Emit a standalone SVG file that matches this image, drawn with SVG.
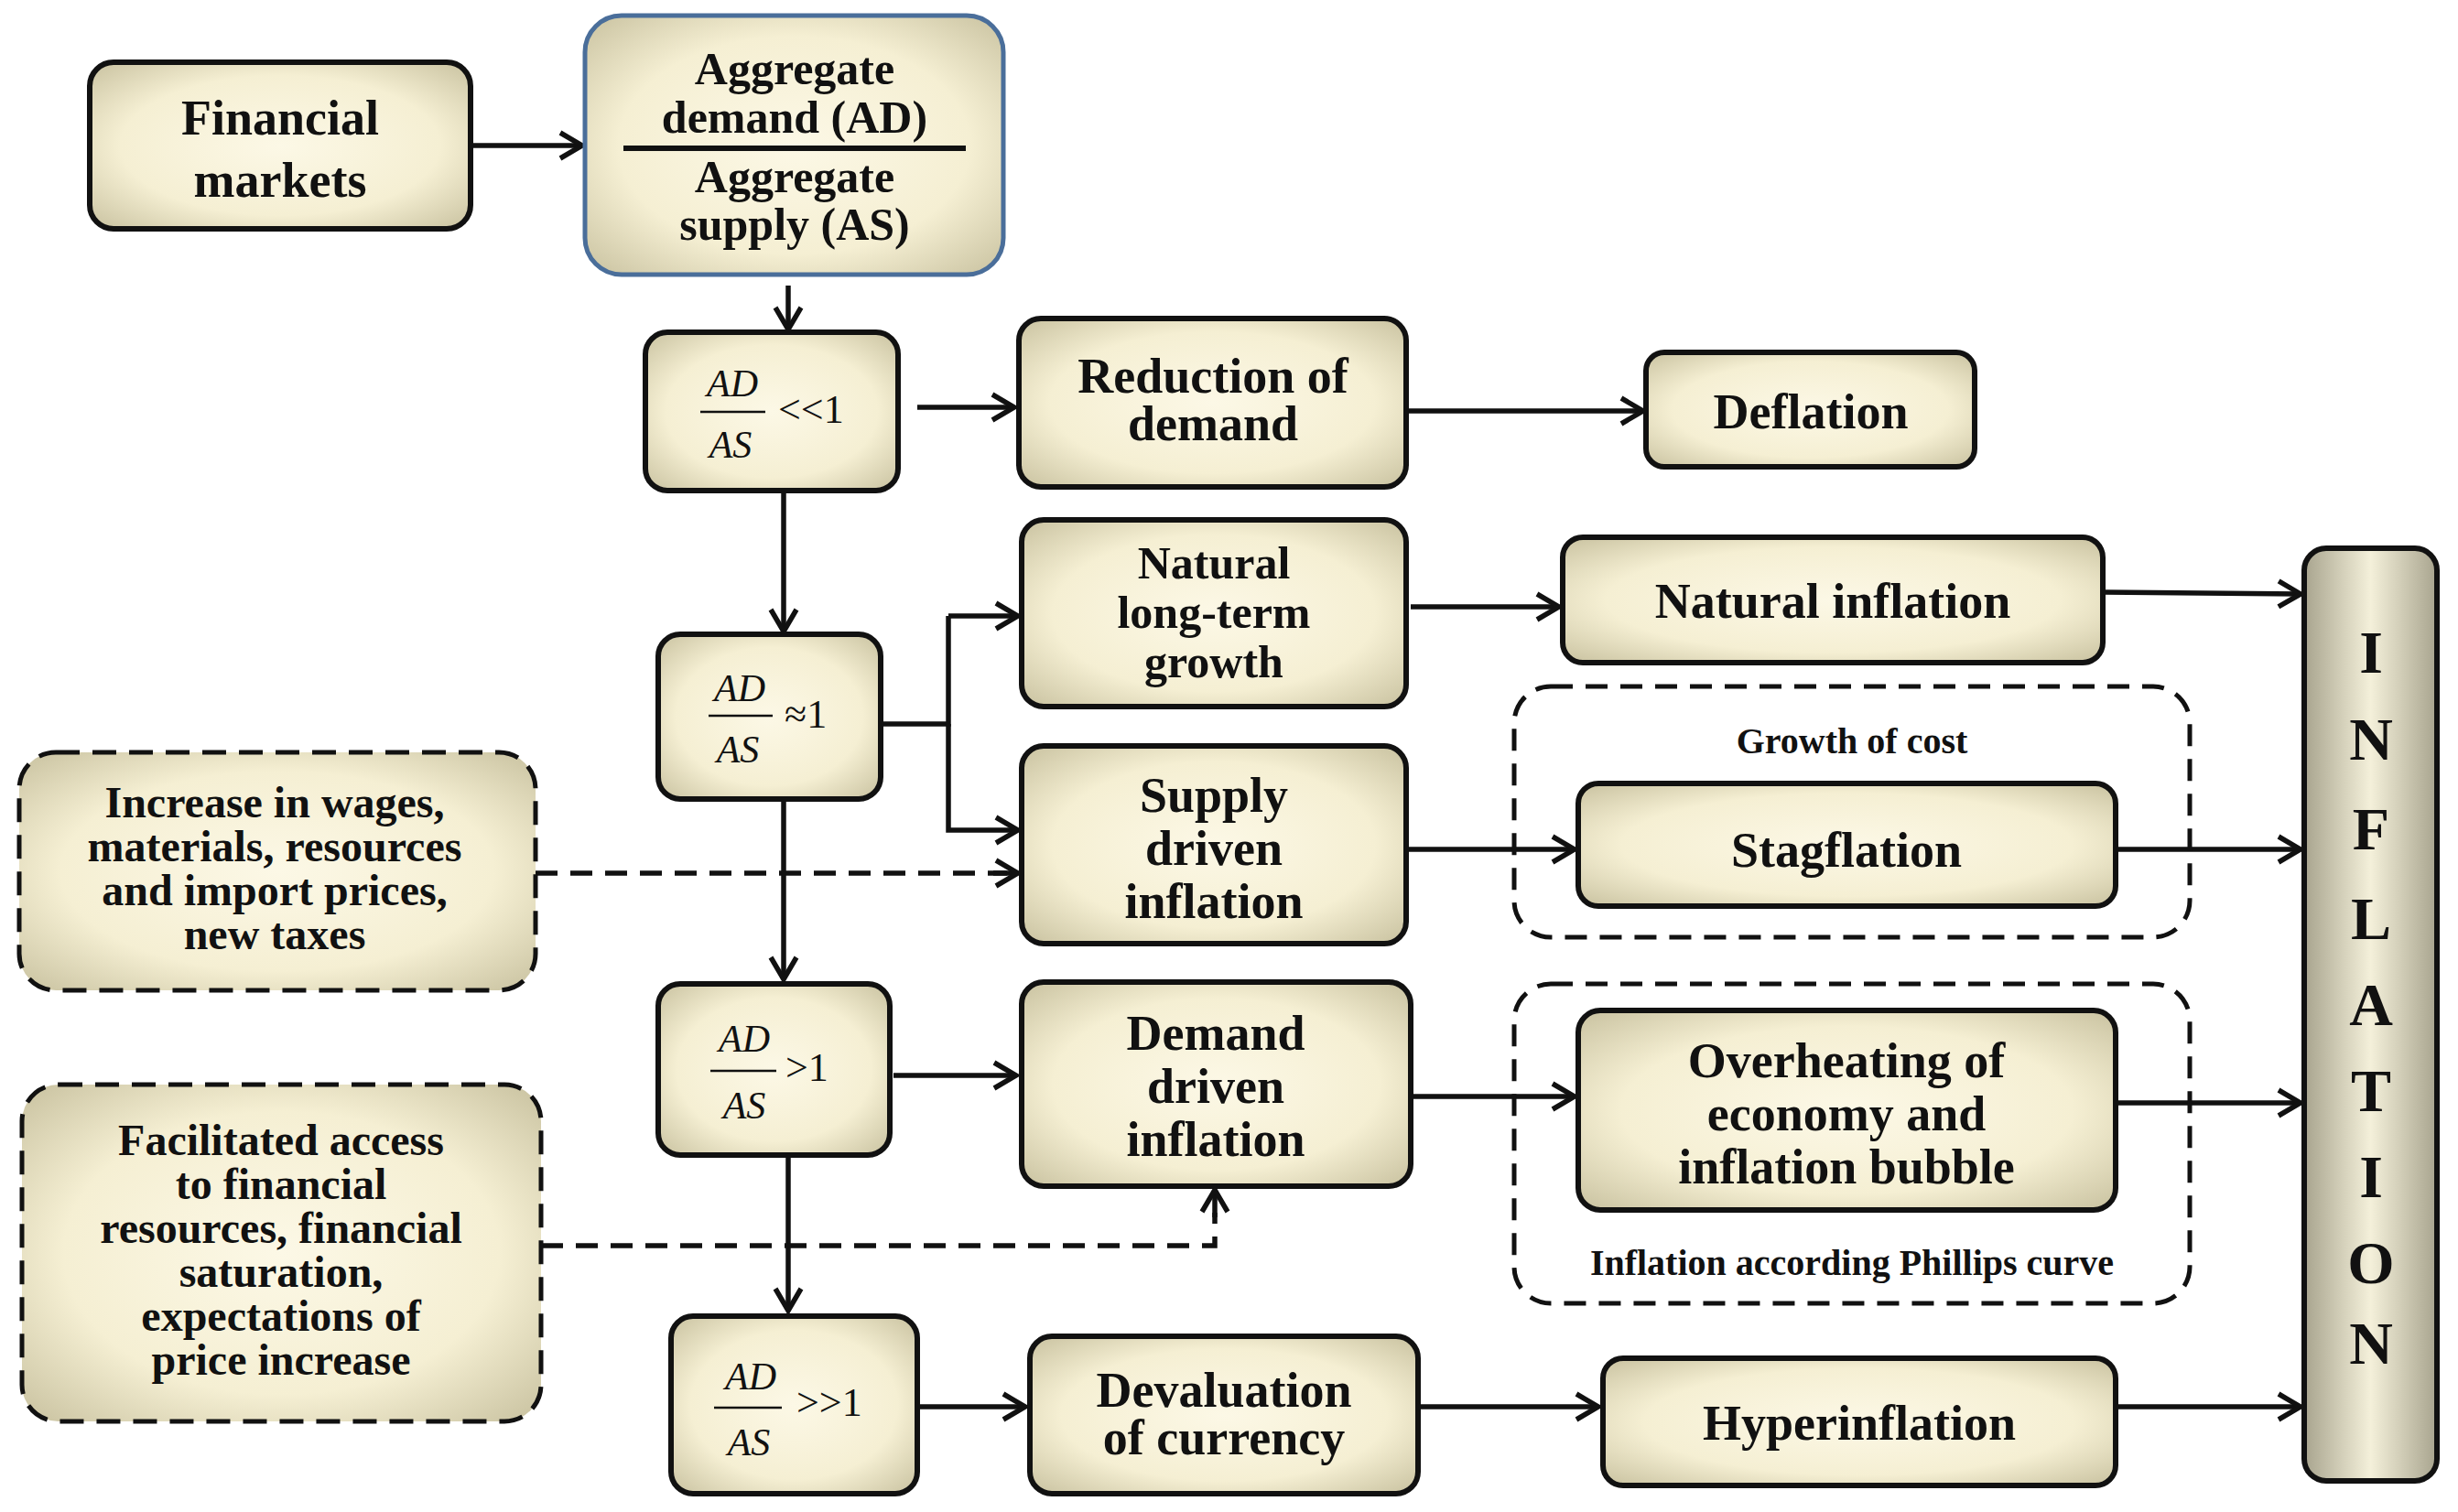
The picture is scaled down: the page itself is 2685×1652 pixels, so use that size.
<svg xmlns="http://www.w3.org/2000/svg" width="2685" height="1652" viewBox="0 0 2685 1652">
<style>
.n{fill:url(#g);stroke:#111;stroke-width:6}
.d{fill:url(#g);stroke:#111;stroke-width:5;stroke-dasharray:26 14}
.f{fill:none;stroke:#111;stroke-width:4.5;stroke-dasharray:24 14}
.t{font-family:"Liberation Serif",serif;font-weight:bold;font-size:54px;fill:#111;text-anchor:middle}
.s{font-family:"Liberation Serif",serif;font-weight:bold;font-size:40px;fill:#111;text-anchor:middle}
.m{font-family:"Liberation Serif",serif;font-style:italic;font-size:42px;fill:#111;text-anchor:middle}
.r{font-family:"Liberation Serif",serif;font-size:44px;fill:#111}
.c line,.c path{stroke:#111;stroke-width:5.5;fill:none}
.a{marker-end:url(#ar)}
</style>
<defs>
<radialGradient id="g" cx="50%" cy="50%" r="70%">
<stop offset="0" stop-color="#fcf8e6"/><stop offset="0.6" stop-color="#f5efd3"/><stop offset="1" stop-color="#c9c2a0"/>
</radialGradient>
<linearGradient id="gi" x1="0" x2="1"><stop offset="0" stop-color="#a8a48e"/><stop offset="0.5" stop-color="#f4f0da"/><stop offset="1" stop-color="#a8a48e"/></linearGradient>
<marker id="ar" viewBox="-30 -18 34 36" refX="0" refY="0" markerWidth="34" markerHeight="36" orient="auto" markerUnits="userSpaceOnUse"><path d="M-24,-14 L0,0 L-24,14" fill="none" stroke="#111" stroke-width="5.5"/></marker>
</defs>
<rect width="2685" height="1652" fill="#fff"/>
<g class="c">
<line class="a" x1="514" y1="159" x2="636" y2="159"/>
<line class="a" x1="861" y1="312" x2="861" y2="360"/>
<line class="a" x1="1002" y1="445" x2="1108" y2="445"/>
<line class="a" x1="1536" y1="449" x2="1795" y2="449"/>
<line class="a" x1="856" y1="536" x2="856" y2="690"/>
<path d="M962,791 H1036 V673"/>
<line class="a" x1="1036" y1="673" x2="1112" y2="673"/>
<path class="a" d="M1036,791 V907 H1112"/>
<line class="f" x1="585" y1="954" x2="1100" y2="954"/>
<line class="a" x1="1085" y1="954" x2="1112" y2="954"/>
<line class="a" x1="856" y1="873" x2="856" y2="1070"/>
<line class="a" x1="976" y1="1175" x2="1110" y2="1175"/>
<line class="a" x1="861" y1="1262" x2="861" y2="1432"/>
<path class="f" d="M591,1361 H1327 V1325"/>
<line class="a" x1="1327" y1="1330" x2="1327" y2="1300"/>
<line class="a" x1="1002" y1="1537" x2="1120" y2="1537"/>
<line class="a" x1="1549" y1="1537" x2="1746" y2="1537"/>
<line class="a" x1="1541" y1="663" x2="1703" y2="663"/>
<line class="a" x1="2297" y1="647" x2="2513" y2="649"/>
<line class="a" x1="1536" y1="928" x2="1720" y2="928"/>
<line class="a" x1="2311" y1="928" x2="2513" y2="928"/>
<line class="a" x1="1541" y1="1198" x2="1720" y2="1198"/>
<line class="a" x1="2311" y1="1205" x2="2513" y2="1205"/>
<line class="a" x1="2311" y1="1537" x2="2513" y2="1537"/>
</g>
<g id="fm"><rect class="n" x="98" y="68" width="416" height="182" rx="26"/><text class="t" x="306" y="147">Financial</text><text class="t" x="306" y="215">markets</text></g>
<g id="adas"><rect x="639" y="17" width="457" height="283" rx="40" fill="url(#g)" stroke="#4a6e9a" stroke-width="5"/><text class="t" x="868" y="92" style="font-size:50px">Aggregate</text><text class="t" x="868" y="145" style="font-size:50px">demand (AD)</text><line x1="681" y1="162" x2="1055" y2="162" stroke="#111" stroke-width="6"/><text class="t" x="868" y="210" style="font-size:50px">Aggregate</text><text class="t" x="868" y="262" style="font-size:50px">supply (AS)</text></g>
<g id="r1"><rect class="n" x="705" y="363" width="276" height="173" rx="24"/><text class="m" x="800" y="433">AD</text><line x1="765" y1="450" x2="836" y2="450" stroke="#111" stroke-width="2.5"/><text class="m" x="798" y="500">AS</text><text class="r" x="850" y="462">&lt;&lt;1</text></g>
<g id="r2"><rect class="n" x="719" y="693" width="243" height="180" rx="24"/><text class="m" x="808" y="766">AD</text><line x1="774" y1="782" x2="844" y2="782" stroke="#111" stroke-width="2.5"/><text class="m" x="806" y="833">AS</text><text class="r" x="857" y="795">≈1</text></g>
<g id="r3"><rect class="n" x="719" y="1075" width="253" height="187" rx="24"/><text class="m" x="813" y="1149">AD</text><line x1="776" y1="1170" x2="848" y2="1170" stroke="#111" stroke-width="2.5"/><text class="m" x="813" y="1222">AS</text><text class="r" x="858" y="1181">&gt;1</text></g>
<g id="r4"><rect class="n" x="733" y="1438" width="269" height="194" rx="24"/><text class="m" x="820" y="1518">AD</text><line x1="780" y1="1538" x2="854" y2="1538" stroke="#111" stroke-width="2.5"/><text class="m" x="818" y="1590">AS</text><text class="r" x="870" y="1547">&gt;&gt;1</text></g>
<g id="red"><rect class="n" x="1113" y="348" width="423" height="184" rx="24"/><text class="t" x="1325" y="429">Reduction of</text><text class="t" x="1325" y="481">demand</text></g>
<g id="defl"><rect class="n" x="1798" y="385" width="359" height="125" rx="20"/><text class="t" x="1978" y="468">Deflation</text></g>
<g id="nat"><rect class="n" x="1116" y="568" width="420" height="204" rx="24"/><text class="t" x="1326" y="632" style="font-size:50px">Natural</text><text class="t" x="1326" y="686" style="font-size:50px">long-term</text><text class="t" x="1326" y="740" style="font-size:50px">growth</text></g>
<g id="natinf"><rect class="n" x="1707" y="587" width="590" height="137" rx="22"/><text class="t" x="2002" y="675">Natural inflation</text></g>
<g id="sup"><rect class="n" x="1116" y="815" width="420" height="216" rx="24"/><text class="t" x="1326" y="887">Supply</text><text class="t" x="1326" y="945">driven</text><text class="t" x="1326" y="1003">inflation</text></g>
<g id="cost"><rect class="f" x="1654" y="750" width="738" height="274" rx="40" style="stroke-width:5"/><text class="s" x="2023" y="823">Growth of cost</text></g>
<g id="stag"><rect class="n" x="1724" y="856" width="587" height="134" rx="22"/><text class="t" x="2017" y="947">Stagflation</text></g>
<g id="dem"><rect class="n" x="1116" y="1073" width="425" height="223" rx="24"/><text class="t" x="1328" y="1147">Demand</text><text class="t" x="1328" y="1205">driven</text><text class="t" x="1328" y="1263">inflation</text></g>
<g id="phil"><rect class="f" x="1654" y="1075" width="738" height="349" rx="40" style="stroke-width:5"/><text class="s" x="2023" y="1393">Inflation according Phillips curve</text></g>
<g id="over"><rect class="n" x="1724" y="1104" width="587" height="218" rx="24"/><text class="t" x="2017" y="1177">Overheating of</text><text class="t" x="2017" y="1235">economy and</text><text class="t" x="2017" y="1293">inflation bubble</text></g>
<g id="dev"><rect class="n" x="1125" y="1460" width="424" height="172" rx="24"/><text class="t" x="1337" y="1537">Devaluation</text><text class="t" x="1337" y="1589">of currency</text></g>
<g id="hyp"><rect class="n" x="1751" y="1484" width="560" height="139" rx="22"/><text class="t" x="2031" y="1573">Hyperinflation</text></g>
<g id="wages"><rect class="d" x="21" y="822" width="564" height="260" rx="40"/><text class="s" x="300" y="893" style="font-size:48px">Increase in wages,</text><text class="s" x="300" y="941" style="font-size:48px">materials, resources</text><text class="s" x="300" y="989" style="font-size:48px">and import prices,</text><text class="s" x="300" y="1037" style="font-size:48px">new taxes</text></g>
<g id="fac"><rect class="d" x="24" y="1185" width="567" height="368" rx="40"/><text class="s" x="307" y="1262" style="font-size:48px">Facilitated access</text><text class="s" x="307" y="1310" style="font-size:48px">to financial</text><text class="s" x="307" y="1358" style="font-size:48px">resources, financial</text><text class="s" x="307" y="1406" style="font-size:48px">saturation,</text><text class="s" x="307" y="1454" style="font-size:48px">expectations of</text><text class="s" x="307" y="1502" style="font-size:48px">price increase</text></g>
<g id="infl"><rect x="2517" y="599" width="145" height="1019" rx="24" fill="url(#gi)" stroke="#111" stroke-width="6"/>
<g class="t" style="font-size:66px"><text x="2590" y="735">I</text><text x="2590" y="830">N</text><text x="2590" y="928">F</text><text x="2590" y="1026">L</text><text x="2590" y="1120">A</text><text x="2590" y="1214">T</text><text x="2590" y="1308">I</text><text x="2590" y="1402">O</text><text x="2590" y="1490">N</text></g></g>
</svg>
